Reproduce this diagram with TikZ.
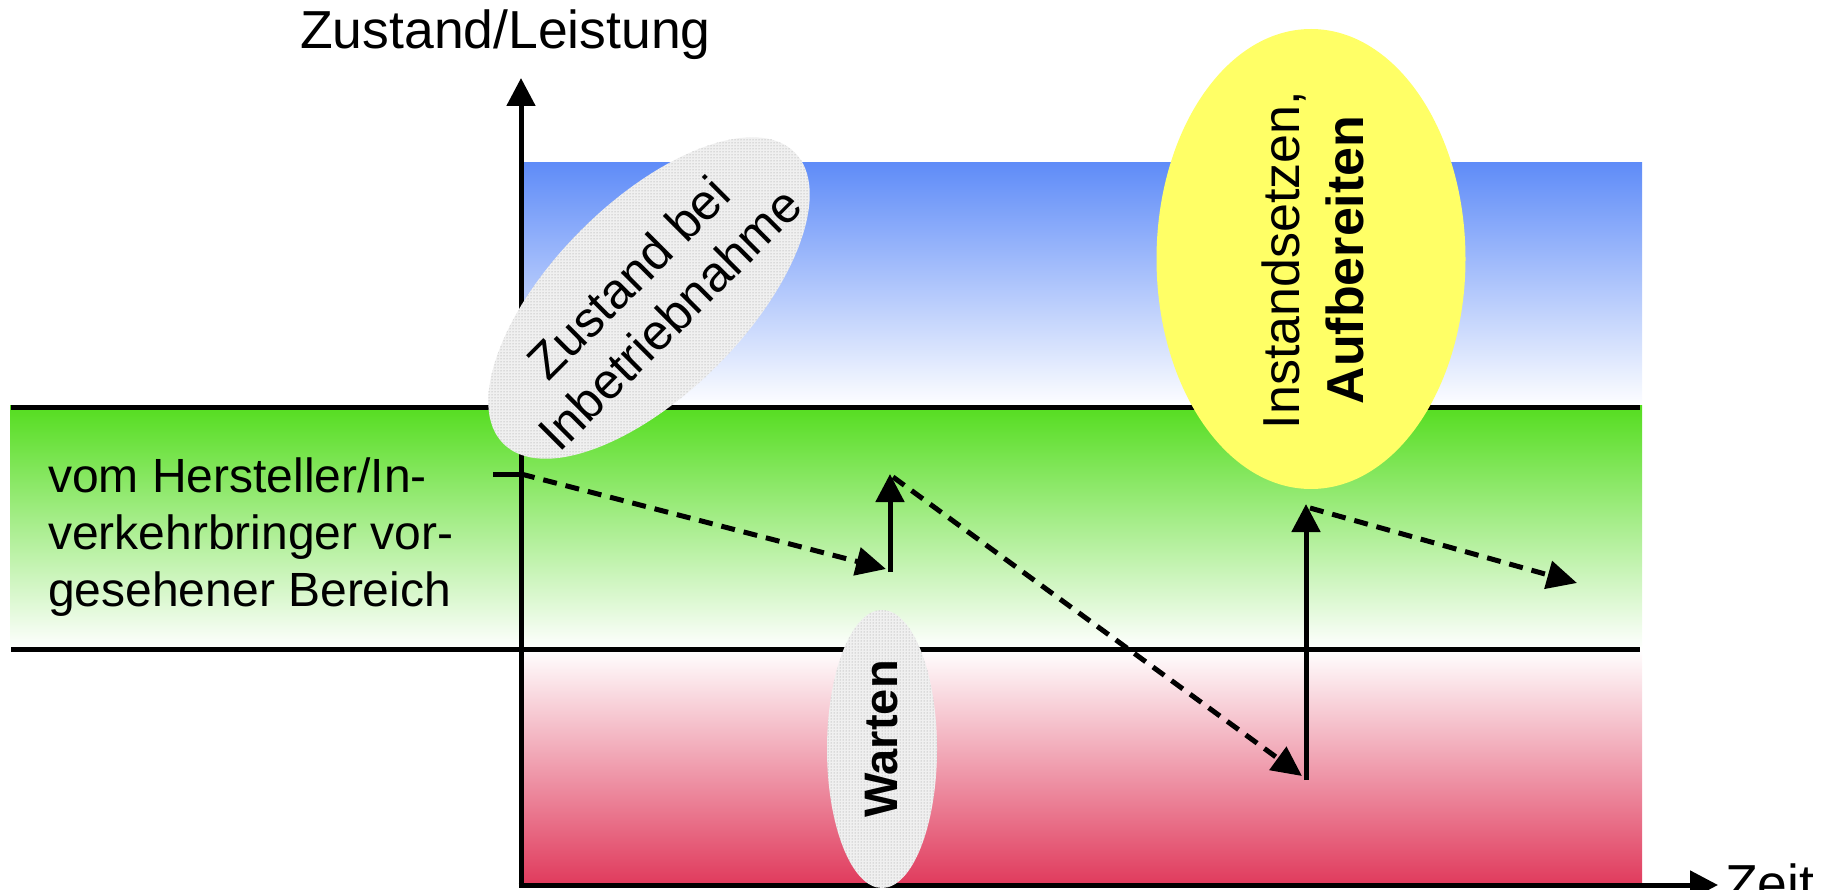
\documentclass[tikz,border=0pt]{standalone}
\usepackage{fontspec}
\setmainfont{Liberation Sans}
\usetikzlibrary{arrows.meta,shapes.geometric,patterns}
\definecolor{bandblue}{HTML}{5F8CF8}
\definecolor{bandgreen}{HTML}{55DD20}
\definecolor{bandred}{HTML}{E03A5C}
\definecolor{ellyellow}{HTML}{FFFF66}
\begin{document}
\begin{tikzpicture}[x=1pt,y=-1pt,
  thickline/.style={line width=5pt},
  axisarrow/.style={line width=5pt,-{Triangle[length=28pt,width=28pt]}},
  jumparrow/.style={line width=5pt,-{Triangle[length=28pt,width=28pt]}},
  trendarrow/.style={line width=5pt,dash pattern=on 14pt off 9pt,-{Triangle[length=30pt,width=28pt]}},
  dotell/.style={ellipse,inner sep=0pt,preaction={fill=gray!12},pattern=dots,pattern color=gray!85},
  bigtext/.style={inner sep=0pt,font=\fontsize{53.5}{62}\selectfont},
  lbltext/.style={inner sep=0pt,font=\fontsize{48}{57}\selectfont}
]
\useasboundingbox (0,0) rectangle (1845,890);
% bands
\shade[top color=bandblue,bottom color=white] (523,163) rectangle (1642,408);
\shade[top color=bandgreen,bottom color=white] (10,406) rectangle (1642,649);
\shade[top color=white,bottom color=bandred] (521,649) rectangle (1642,885);
% band borders
\draw[thickline] (11,408) -- (1640,408);
\draw[thickline] (11,649) -- (1640,649);
% axes
\coordinate (yfoot) at (521,887.5);
\coordinate (ytip) at (521,78);
\coordinate (xfoot) at (518.5,885);
\coordinate (xtip) at (1718,885);
\draw[axisarrow] (yfoot) -- (ytip);
\draw[axisarrow] (xfoot) -- (xtip);
% tick
\coordinate (tick) at (493,474);
\coordinate (p0) at (521,474);
\draw[thickline] (tick) -- (p0);
% ellipses
\node[dotell,minimum width=412pt,minimum height=192pt,rotate=45] (zb) at (649,298) {};
\node[dotell,minimum width=110pt,minimum height=278pt] (wart) at (882,749) {};
\node[ellipse,inner sep=0pt,fill=ellyellow,minimum width=309pt,minimum height=460pt] (yel) at (1311,259) {};
% arrows
\coordinate (d1e) at (886,569);
\coordinate (p1) at (890,572);
\coordinate (p2) at (890,474);
\coordinate (d2s) at (893,477);
\coordinate (d2e) at (1302,776);
\coordinate (p3) at (1306,780);
\coordinate (p4) at (1306,504);
\coordinate (d3s) at (1310,508);
\coordinate (d3e) at (1577,583);
\draw[trendarrow] (p0) -- (d1e);
\draw[jumparrow] (p1) -- (p2);
\draw[trendarrow] (d2s) -- (d2e);
\draw[jumparrow] (p3) -- (p4);
\draw[trendarrow] (d3s) -- (d3e);
% texts
\node[bigtext,anchor=base west] (title) at (300,49) {Zustand/Leistung};
\node[bigtext,anchor=base west] (zeit) at (1725,902) {Zeit};
\node[lbltext,anchor=west,align=left] (range) at (48,537) {vom Hersteller/In-\\verkehrbringer vor-\\gesehener Bereich};
\node[inner sep=0pt,rotate=45,align=center,font=\fontsize{50}{58}\selectfont] (zbtext) at (zb.center) {Zustand bei\\Inbetriebnahme};
\node[inner sep=0pt,rotate=90,font=\fontsize{47}{56}\selectfont\bfseries] (warttext) at (882,739) {Warten};
\node[inner sep=0pt,rotate=90,align=center,font=\fontsize{52}{64}\selectfont] (yeltext) at (1313,260) {Instandsetzen,\\\textbf{Aufbereiten}};
\end{tikzpicture}
\end{document}
